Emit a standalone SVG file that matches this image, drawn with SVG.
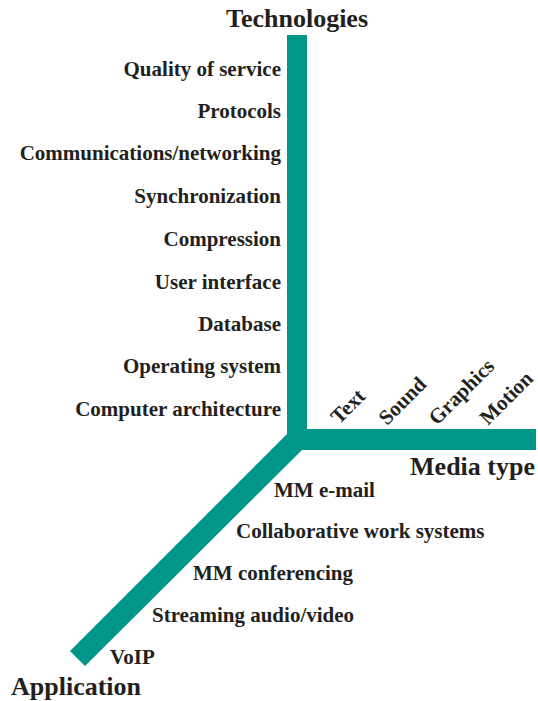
<svg xmlns="http://www.w3.org/2000/svg" width="538" height="701" viewBox="0 0 538 701">
<style>
text{font-family:"Liberation Serif","Times New Roman",serif;font-weight:bold;fill:#231f20}
.l{font-size:21px}
.t{font-size:26px}
.r{text-anchor:end}
.axis{fill:#00968a}
</style>
<rect width="538" height="701" fill="#ffffff"/>
<g id="connectors">
<polygon class="axis" points="287,35 307,35 307,429 536,429 536,450 302,450 85,666 70,651 287,434"/>
</g>
<g id="technologies">
<text class="t" x="297" y="27" text-anchor="middle">Technologies</text>
<text class="l r" x="281" y="76">Quality of service</text>
<text class="l r" x="281" y="118">Protocols</text>
<text class="l r" x="281" y="160">Communications/networking</text>
<text class="l r" x="281" y="203">Synchronization</text>
<text class="l r" x="281" y="246">Compression</text>
<text class="l r" x="281" y="289">User interface</text>
<text class="l r" x="281" y="331">Database</text>
<text class="l r" x="281" y="373">Operating system</text>
<text class="l r" x="281" y="416">Computer architecture</text>
</g>
<g id="media-type">
<text class="t r" x="535" y="475">Media type</text>
<text class="l" x="339" y="425" transform="rotate(-45 339 425)">Text</text>
<text class="l" x="387" y="426" transform="rotate(-45 387 426)">Sound</text>
<text class="l" x="437" y="426" transform="rotate(-45 437 426)">Graphics</text>
<text class="l" x="488" y="426" transform="rotate(-45 488 426)">Motion</text>
</g>
<g id="application">
<text class="t" x="11" y="695">Application</text>
<text class="l" x="274" y="497">MM e-mail</text>
<text class="l" x="236" y="538">Collaborative work systems</text>
<text class="l" x="193" y="580">MM conferencing</text>
<text class="l" x="152" y="622">Streaming audio/video</text>
<text class="l" x="110" y="664">VoIP</text>
</g>
</svg>
